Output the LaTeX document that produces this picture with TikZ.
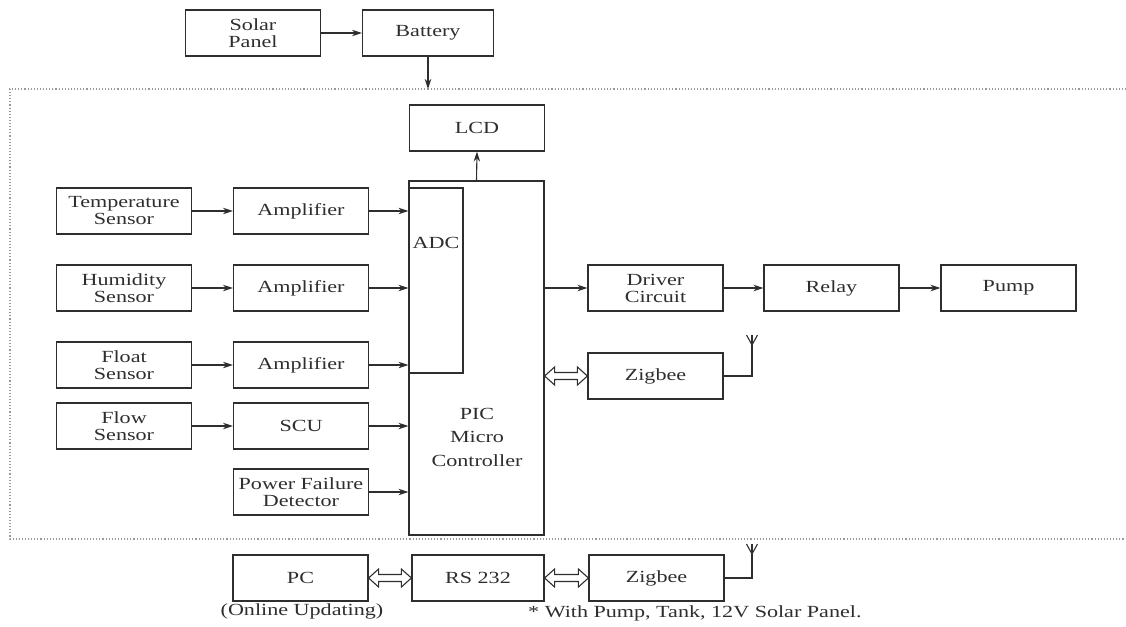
\documentclass[tikz,border=0pt]{standalone}
\usepackage{fontspec}
\setmainfont{Liberation Serif}[FakeStretch=1.3]
\usetikzlibrary{arrows.meta,calc}
\definecolor{ink}{HTML}{2E2E2E}
\newcommand\dblarr[2]{\draw[plain,line join=miter] let \p1=(#1),\p2=(#2) in
  (\x1,\y1) -- (\x1+10pt,\y1+9pt) -- (\x1+10pt,\y1+3.5pt) -- (\x2-10pt,\y1+3.5pt) -- (\x2-10pt,\y1+9pt) --
  (\x2,\y1) -- (\x2-10pt,\y1-9pt) -- (\x2-10pt,\y1-3.5pt) -- (\x1+10pt,\y1-3.5pt) -- (\x1+10pt,\y1-9pt) -- cycle;}
\newcommand\antenna[1]{\draw[plain] let \p1=(#1) in (\x1-5.5pt,\y1) -- (\x1,\y1-10pt) -- (\x1+5.5pt,\y1);}
\begin{document}
\begin{tikzpicture}[x=1pt,y=-1pt,
  blk/.style={draw=ink,line width=1.2pt,minimum width=135pt,minimum height=46pt,inner sep=0pt,align=center,text=ink,font=\fontsize{17}{17}\selectfont},
  conn/.style={draw=ink,line width=1.1pt,-{Stealth[length=10pt,width=6.5pt]}},
  plain/.style={draw=ink,line width=1.1pt},
  frame/.style={draw=gray!80,line width=1.1pt,dotted},
  txt/.style={text=ink,font=\fontsize{17}{17}\selectfont,inner sep=0pt}]
\useasboundingbox (0,0) rectangle (1126,626);
% frame
\coordinate (ftr) at (1126,89);
\coordinate (ftl) at (10,89);
\coordinate (fbl) at (10,539);
\coordinate (fbr) at (1126,539);
\draw[frame] (ftr) -- (ftl) -- (fbl) -- (fbr);
% top
\node[blk] (solar) at (253,33) {Solar\\Panel};
\node[blk,minimum width=131pt] (battery) at (428,33) {Battery};
\node[blk] (lcd) at (477,128) {LCD};
% PIC
\node[blk,minimum height=354pt] (pic) at (476.5,358) {};
\node[blk,minimum width=54pt,minimum height=185pt] (adc) at (436,280.5) {};
\node[txt] (adctext) at (436,243) {ADC};
\node[txt,align=center,font=\fontsize{17}{23.5}\selectfont] (pictext) at (477,437) {PIC\\Micro\\Controller};
% left column
\node[blk] (temp) at (124,211) {Temperature\\Sensor};
\node[blk] (hum) at (124,288) {Humidity\\Sensor};
\node[blk] (flt) at (124,365) {Float\\Sensor};
\node[blk] (flow) at (124,426) {Flow\\Sensor};
\node[blk] (amp1) at (301,211) {Amplifier};
\node[blk] (amp2) at (301,288) {Amplifier};
\node[blk] (amp3) at (301,365) {Amplifier};
\node[blk] (scu) at (301,426) {SCU};
\node[blk] (pfd) at (301,492) {Power Failure\\Detector};
% right
\node[blk] (drv) at (655.5,288) {Driver\\Circuit};
\node[blk] (relay) at (831.5,288) {Relay};
\node[blk] (pump) at (1008.5,288) {Pump};
\node[blk] (zig1) at (655.5,376) {Zigbee};
% bottom
\node[blk] (pc) at (300.5,578) {PC};
\node[blk,minimum width=132pt] (rs) at (478,578) {RS 232};
\node[blk] (zig2) at (656.5,578) {Zigbee};
\node[txt] (online) at (302,611) {(Online Updating)};
\node[txt,anchor=west] (note) at (528,613) {* With Pump, Tank, 12V Solar Panel.};
% connectors
\draw[conn] (solar) -- (battery);
\draw[conn] (battery.south) -- (battery.south |- ftl);
\draw[conn] (pic.north) -- (lcd.south);
\foreach \s/\t in {temp/amp1,hum/amp2,flt/amp3,flow/scu}{
  \draw[conn] (\s.east) -- (\t.west);
}
\foreach \s in {amp1,amp2,amp3,scu,pfd}{
  \draw[conn] (\s.east) -- (\s.east -| pic.west);
}
\draw[conn] (drv.west -| pic.east) -- (drv.west);
\draw[conn] (drv) -- (relay);
\draw[conn] (relay) -- (pump);
\dblarr{zig1.west -| pic.east}{zig1.west}
\dblarr{pc.east}{rs.west}
\dblarr{rs.east}{zig2.west}
% antennas
\coordinate (ant1) at (752,335);
\coordinate (ant2) at (752,544);
\draw[plain] (zig1.east) -- (zig1.east -| ant1) -- (ant1);
\antenna{ant1}
\draw[plain] (zig2.east) -- (zig2.east -| ant2) -- (ant2);
\antenna{ant2}
\end{tikzpicture}
\end{document}
